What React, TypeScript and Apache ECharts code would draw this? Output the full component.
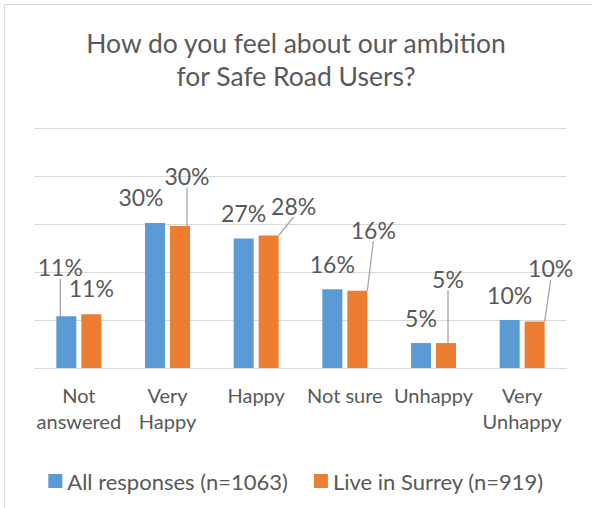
import React, { useEffect, useRef } from "react";
import * as echarts from "echarts";

const categories = ["Not\nanswered", "Very\nHappy", "Happy", "Not sure", "Unhappy", "Very\nUnhappy"];
const allResponses = [10.8, 30.2, 27.0, 16.4, 5.2, 10.0];
const liveInSurrey = [11.2, 29.6, 27.6, 16.1, 5.2, 9.7];
const yTicks = [0, 10, 20, 30, 40, 50];

// label offsets (dx from bar centre, dy from bar top) and whether a leader line is drawn
const allOffsets: [number, number, boolean][] = [
  [-6, -49, true], [-14, -26, false], [0, -25, false], [0, -25, false], [0, -25, false], [0, -25, false],
];
const surreyOffsets: [number, number, boolean][] = [
  [0, -26, false], [7, -50, true], [25, -30, true], [16, -61, true], [2, -64, true], [16, -53, true],
];

const FONT = "Lato, 'Open Sans', sans-serif";
const TEXT = "#595959";

export default function App() {
  const ref = useRef<HTMLDivElement>(null);
  useEffect(() => {
    document.body.style.margin = "0";
    const chart = echarts.init(ref.current!, null, { renderer: "svg" });
    const makeLayout = (offsets: [number, number, boolean][]) => (p: any) => {
      const [dx, dy, line] = offsets[p.dataIndex];
      const cx = p.rect.x + p.rect.width / 2;
      const ty = p.rect.y;
      const lx = cx + dx;
      const ly = ty + dy;
      const res: any = { x: lx, y: ly, align: "center", verticalAlign: "middle" };
      if (line) {
        const sx = lx + (dx > 10 ? -1 : 0);
        const sy = ly + 13;
        res.labelLinePoints = [[sx, sy], [(sx + cx) / 2, (sy + ty) / 2], [cx, ty]];
      }
      return res;
    };
    const makeData = (vals: number[], offsets: [number, number, boolean][]) =>
      vals.map((v, i) => ({ value: v, labelLine: { show: offsets[i][2] } }));
    const labelStyle = {
      show: true,
      position: "top" as const,
      formatter: (p: any) => Math.round(p.value) + "%",
      fontFamily: FONT,
      fontSize: 23,
      color: TEXT,
    };
    chart.setOption({
      animation: false,
      textStyle: { fontFamily: FONT },
      title: {
        text: "How do you feel about our ambition\nfor Safe Road Users?",
        left: "center",
        top: 21,
        textStyle: { fontFamily: FONT, fontSize: 26.5, fontWeight: "normal", color: TEXT, lineHeight: 33 },
      },
      graphic: [
        {
          type: "rect",
          shape: { x: 4.5, y: 4.5, width: 700, height: 700 },
          style: { fill: "none", stroke: "#d9d9d9", lineWidth: 1 },
          silent: true,
        },
      ],
      legend: {
        top: 465,
        left: "center",
        icon: "rect",
        itemWidth: 14,
        itemHeight: 14,
        itemGap: 26,
        textStyle: { fontFamily: FONT, fontSize: 22, color: TEXT },
        data: ["All responses (n=1063)", "Live in Surrey (n=919)"],
      },
      grid: { left: 34.5, right: 25.5, top: 128, bottom: 140, containLabel: false },
      xAxis: {
        type: "category",
        data: categories,
        axisLine: { lineStyle: { color: "#d9d9d9", width: 1 } },
        axisTick: { show: false },
        axisLabel: { fontFamily: FONT, fontSize: 20, color: TEXT, lineHeight: 26, margin: 14, interval: 0 },
      },
      yAxis: {
        type: "value",
        min: yTicks[0],
        max: yTicks[yTicks.length - 1],
        interval: 10,
        axisLabel: { show: false },
        axisLine: { show: false },
        axisTick: { show: false },
        splitLine: { lineStyle: { color: "#d9d9d9", width: 1 } },
      },
      series: [
        {
          name: "All responses (n=1063)",
          type: "bar",
          data: makeData(allResponses, allOffsets),
          barWidth: 20,
          barGap: "25%",
          itemStyle: { color: "#5b9bd5" },
          label: labelStyle,
          labelLine: { show: false, lineStyle: { color: "#a6a6a6", width: 1.3 } },
          labelLayout: makeLayout(allOffsets),
        },
        {
          name: "Live in Surrey (n=919)",
          type: "bar",
          data: makeData(liveInSurrey, surreyOffsets),
          barWidth: 20,
          barGap: "25%",
          itemStyle: { color: "#ed7d31" },
          label: labelStyle,
          labelLine: { show: false, lineStyle: { color: "#a6a6a6", width: 1.3 } },
          labelLayout: makeLayout(surreyOffsets),
        },
      ],
    });
    return () => chart.dispose();
  }, []);
  return <div ref={ref} style={{ width: 592, height: 508 }} />;
}
